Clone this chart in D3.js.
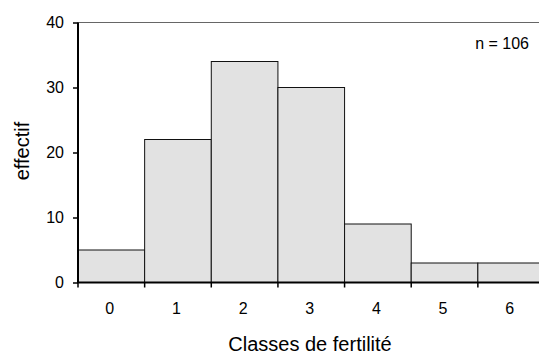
<!DOCTYPE html>
<html>
<head>
<meta charset="utf-8">
<script src="https://cdn.jsdelivr.net/npm/d3@7"></script>
<style>
  html, body { margin: 0; padding: 0; background: #fff; }
  svg { display: block; }
  text { font-family: "Liberation Sans", Arial, sans-serif; fill: #000; }
</style>
</head>
<body>
<svg id="chart" width="539" height="354"></svg>
<script>
// Fertility classes and their counts (total n = 106)
const classes = ["0", "1", "2", "3", "4", "5", "6"];
const counts = [5, 22, 34, 30, 9, 3, 3];
const yTicks = [0, 10, 20, 30, 40];
const total = d3.sum(counts);

const W = 539, H = 354;
const margin = { left: 78, top: 22.5, bottom: 71.5 };
const plotRight = 544.5;     // frame runs slightly past the window edge
const plotBottom = H - margin.bottom;

const svg = d3.select("#chart");

const x = d3.scaleBand()
  .domain(classes)
  .range([margin.left, plotRight])
  .padding(0);

const y = d3.scaleLinear()
  .domain([0, 40])
  .range([plotBottom, margin.top]);

// top frame line
svg.append("line")
  .attr("x1", margin.left).attr("x2", plotRight)
  .attr("y1", y(40)).attr("y2", y(40))
  .attr("stroke", "#666").attr("stroke-width", 1.2);

// bars
svg.append("g")
  .selectAll("rect")
  .data(counts)
  .join("rect")
  .attr("x", (d, i) => x(classes[i]))
  .attr("y", d => y(d))
  .attr("width", x.bandwidth())
  .attr("height", d => y(0) - y(d))
  .attr("fill", "#e2e2e2")
  .attr("stroke", "#111")
  .attr("stroke-width", 1);

// y axis
const yAxis = d3.axisLeft(y)
  .tickValues(yTicks)
  .tickSize(5)
  .tickPadding(9)
  .tickFormat(d3.format("d"));
const gy = svg.append("g")
  .attr("transform", `translate(${margin.left},0)`)
  .call(yAxis);
gy.select(".domain").attr("stroke", "#000").attr("stroke-width", 2)
  .attr("d", `M0,${y(40)}V${y(0)}`);
gy.selectAll(".tick line").attr("stroke", "#000").attr("stroke-width", 1.5);
gy.selectAll(".tick text")
  .style("font-size", "16px")
  .attr("dy", "0.3em");

// x axis: ticks at the class boundaries, labels centred under each bar
const gx = svg.append("g")
  .attr("transform", `translate(0,${plotBottom})`);
gx.append("line")
  .attr("x1", margin.left - 1).attr("x2", plotRight)
  .attr("y1", 0).attr("y2", 0)
  .attr("stroke", "#000").attr("stroke-width", 2);
const bounds = classes.map(c => x(c)).concat([x(classes[classes.length - 1]) + x.bandwidth()]);
gx.selectAll("line.tk")
  .data(bounds)
  .join("line")
  .attr("class", "tk")
  .attr("x1", d => d).attr("x2", d => d)
  .attr("y1", 0).attr("y2", 5)
  .attr("stroke", "#000").attr("stroke-width", 1.5);
gx.selectAll("text")
  .data(classes)
  .join("text")
  .attr("x", d => x(d) + x.bandwidth() / 2 - 1.5)
  .attr("y", 31.5)
  .attr("text-anchor", "middle")
  .style("font-size", "16px")
  .text(d => d);

// axis titles
svg.append("text")
  .attr("x", 310)
  .attr("y", 351)
  .attr("text-anchor", "middle")
  .style("font-size", "20px")
  .text("Classes de fertilité");

svg.append("text")
  .attr("transform", `translate(28.5,151) rotate(-90)`)
  .attr("text-anchor", "middle")
  .style("font-size", "20px")
  .text("effectif");

// sample size note
svg.append("text")
  .attr("x", 529)
  .attr("y", 49)
  .attr("text-anchor", "end")
  .style("font-size", "16px")
  .text(`n = ${total}`);
</script>
</body>
</html>
